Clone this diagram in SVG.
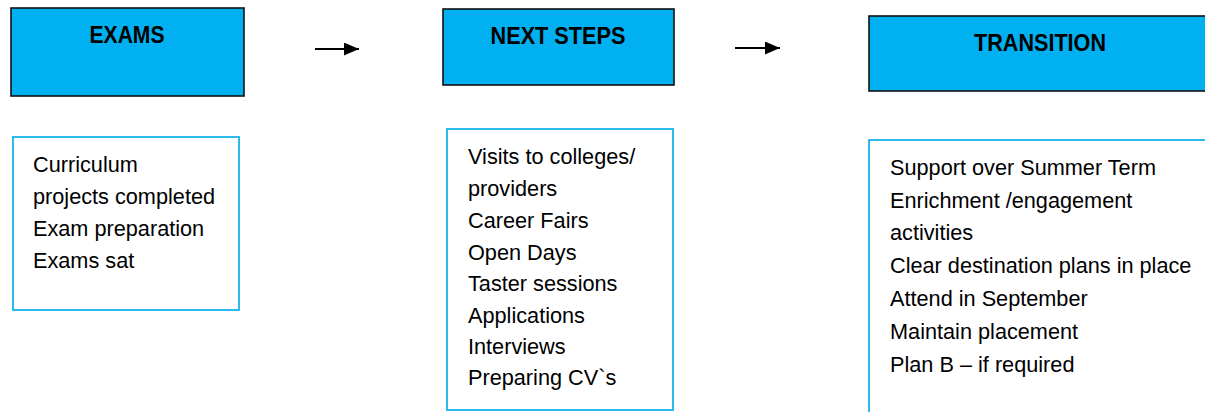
<svg xmlns="http://www.w3.org/2000/svg" width="1205" height="412" viewBox="0 0 1205 412">
<style>
.head{fill:#00B0F0;stroke:#111;stroke-width:1.6}
.body{fill:#fff;stroke:#18B2EC;stroke-width:1.8}
.ht{font-family:"Liberation Sans",Arial,sans-serif;font-weight:bold;font-size:24px;fill:#000;text-anchor:middle}
.bt{font-family:"Liberation Sans",Arial,sans-serif;font-size:21.7px;fill:#000}
.conn{stroke:#000;stroke-width:1.8;fill:none}
</style>
<defs>
<marker id="ah" viewBox="0 0 15 13" refX="15" refY="6.5" markerWidth="15" markerHeight="13" markerUnits="userSpaceOnUse" orient="auto">
<path d="M0,0 L15,6.5 L0,13 Z" fill="#000"/>
</marker>
</defs>
<rect width="1205" height="412" fill="#fff"/>
<g id="exams">
<rect class="head" x="11" y="8" width="233" height="88"/>
<text class="ht" x="127" y="43" textLength="75" lengthAdjust="spacingAndGlyphs">EXAMS</text>
</g>
<g id="next-steps">
<rect class="head" x="443" y="9" width="231" height="76"/>
<text class="ht" x="558" y="44" textLength="135" lengthAdjust="spacingAndGlyphs">NEXT STEPS</text>
</g>
<g id="transition">
<rect class="head" x="869" y="16" width="345" height="75"/>
<text class="ht" x="1040" y="51" textLength="132" lengthAdjust="spacingAndGlyphs">TRANSITION</text>
</g>
<g id="exams-detail">
<rect class="body" x="13" y="137" width="226" height="173"/>
<text class="bt">
<tspan x="33" y="172">Curriculum</tspan>
<tspan x="33" y="204">projects completed</tspan>
<tspan x="33" y="236">Exam preparation</tspan>
<tspan x="33" y="268">Exams sat</tspan>
</text>
</g>
<g id="next-steps-detail">
<rect class="body" x="447" y="129" width="226" height="281"/>
<text class="bt">
<tspan x="468" y="164">Visits to colleges/</tspan>
<tspan x="468" y="196">providers</tspan>
<tspan x="468" y="228">Career Fairs</tspan>
<tspan x="468" y="260">Open Days</tspan>
<tspan x="468" y="291">Taster sessions</tspan>
<tspan x="468" y="323">Applications</tspan>
<tspan x="468" y="354">Interviews</tspan>
<tspan x="468" y="385">Preparing CV`s</tspan>
</text>
</g>
<g id="transition-detail">
<rect class="body" x="869" y="140" width="345" height="290"/>
<text class="bt">
<tspan x="890" y="175">Support over Summer Term</tspan>
<tspan x="890" y="208">Enrichment /engagement</tspan>
<tspan x="890" y="240">activities</tspan>
<tspan x="890" y="273">Clear destination plans in place</tspan>
<tspan x="890" y="306">Attend in September</tspan>
<tspan x="890" y="339">Maintain placement</tspan>
<tspan x="890" y="372">Plan B – if required</tspan>
</text>
</g>
<g id="connectors">
<line class="conn" x1="315" y1="49" x2="359" y2="49" marker-end="url(#ah)"/>
<line class="conn" x1="735" y1="48" x2="780" y2="48" marker-end="url(#ah)"/>
</g>
</svg>
